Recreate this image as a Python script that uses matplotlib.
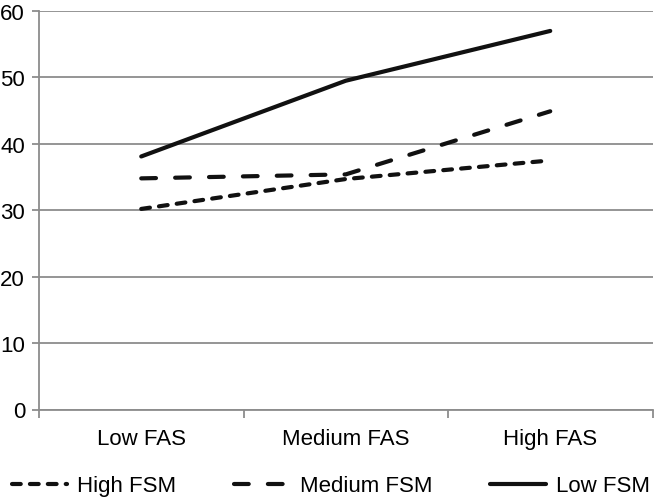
import matplotlib
matplotlib.use("Agg")
import matplotlib.pyplot as plt

categories = ["Low FAS", "Medium FAS", "High FAS"]
high_fsm = [30.2, 34.7, 37.5]
medium_fsm = [34.8, 35.4, 44.9]
low_fsm = [38.1, 49.5, 57.0]
yticks = [0, 10, 20, 30, 40, 50, 60]

plt.rcParams['font.family'] = ['Liberation Sans', 'DejaVu Sans']
plt.rcParams['lines.scale_dashes'] = False

fig = plt.figure(figsize=(6.54, 5.02), dpi=100)
ax = fig.add_axes([39/654, 1-410.5/502, (652.5-39)/654, (410.5-12)/502])

grid_c = '#8c8c8c'
x = list(range(len(categories)))
lw = 3.0
fs = 16
ax.plot(x, high_fsm, color='#111111', lw=lw, dashes=(6.3, 6.6), dash_capstyle='round', solid_capstyle='round', label='High FSM')
ax.plot(x, medium_fsm, color='#111111', lw=lw, dashes=(10.6, 13.8), dash_capstyle='round', solid_capstyle='round', label='Medium FSM')
ax.plot(x, low_fsm, color='#111111', lw=lw, solid_capstyle='round', label='Low FSM')

ax.set_xlim(-0.5, len(categories) - 0.5)
ax.set_ylim(0, 60)
ax.set_yticks(yticks)
ax.set_yticklabels([str(v) for v in yticks], fontsize=fs)
ax.yaxis.grid(True, color=grid_c, lw=1.3)
ax.set_axisbelow(True)

ax.set_xticks([i - 0.5 for i in range(len(categories) + 1)])
ax.set_xticklabels([])
ax.set_xticks(x, minor=True)
ax.set_xticklabels(categories, minor=True, fontsize=fs)
ax.tick_params(axis='x', which='minor', length=0, pad=13)
ax.tick_params(axis='x', which='major', length=6, width=1.3, color=grid_c)
ax.tick_params(axis='y', length=5, width=1.3, color=grid_c, pad=5)

for s in ['top', 'right']:
    ax.spines[s].set_visible(False)
for s in ['left', 'bottom']:
    ax.spines[s].set_color(grid_c)
    ax.spines[s].set_linewidth(1.3)

handles, labels = ax.get_legend_handles_labels()
fig.legend(handles, labels, loc='center right', bbox_to_anchor=(652/654, 1 - 487/502), ncol=3,
           frameon=False, fontsize=fs, handlelength=2.5, handletextpad=0.45,
           columnspacing=2.6, borderpad=0.1, borderaxespad=0)

fig.savefig('out.png', dpi=100)
